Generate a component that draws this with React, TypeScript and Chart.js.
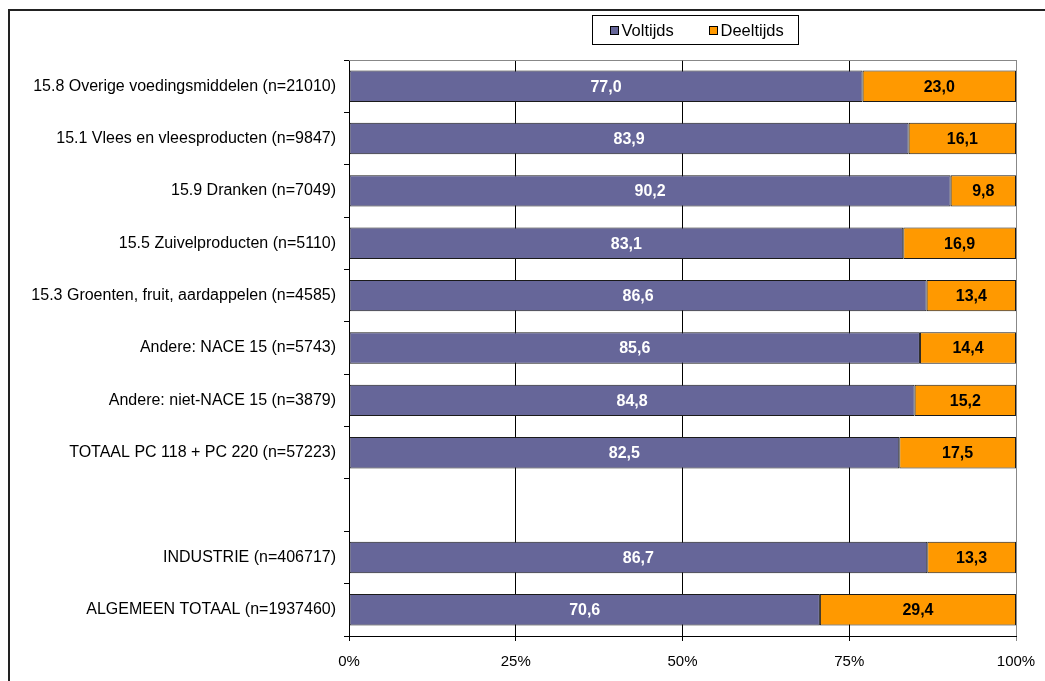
import React, { useEffect, useRef } from "react";
import { Chart, registerables } from "chart.js";

Chart.register(...registerables);

const categories = [
  "15.8 Overige voedingsmiddelen (n=21010)",
  "15.1 Vlees en vleesproducten (n=9847)",
  "15.9 Dranken (n=7049)",
  "15.5 Zuivelproducten (n=5110)",
  "15.3 Groenten, fruit, aardappelen (n=4585)",
  "Andere: NACE 15 (n=5743)",
  "Andere: niet-NACE 15 (n=3879)",
  "TOTAAL PC 118 + PC 220 (n=57223)",
  "",
  "INDUSTRIE (n=406717)",
  "ALGEMEEN TOTAAL (n=1937460)",
];
const voltijds = [77.0, 83.9, 90.2, 83.1, 86.6, 85.6, 84.8, 82.5, null, 86.7, 70.6];
const deeltijds = [23.0, 16.1, 9.8, 16.9, 13.4, 14.4, 15.2, 17.5, null, 13.3, 29.4];
const seriesNames = ["Voltijds", "Deeltijds"];
const xTicks = [0, 25, 50, 75, 100];

const PURPLE = "#666699";
const ORANGE = "#FF9900";
const SANS = "'Liberation Sans', Arial, sans-serif";

const valueLabels = {
  id: "valueLabels",
  afterDatasetsDraw(chart: any) {
    const ctx = chart.ctx;
    ctx.save();
    ctx.textAlign = "center";
    ctx.textBaseline = "middle";
    ctx.font = `bold 16px ${SANS}`;
    chart.data.datasets.forEach((ds: any, di: number) => {
      const meta = chart.getDatasetMeta(di);
      meta.data.forEach((el: any, i: number) => {
        const v = ds.data[i];
        if (v === null || v === undefined) return;
        const p = el.getProps(["x", "y", "base"], true);
        ctx.fillStyle = di === 0 ? "#ffffff" : "#000000";
        ctx.fillText(v.toFixed(1).replace(".", ","), (p.x + p.base) / 2, p.y + 1);
      });
    });
    ctx.restore();
  },
};

const plotFrame = {
  id: "plotFrame",
  beforeDatasetsDraw(chart: any) {
    const { ctx, chartArea } = chart;
    ctx.save();
    ctx.strokeStyle = "#888888";
    ctx.lineWidth = 1;
    ctx.beginPath();
    ctx.moveTo(chartArea.left, chartArea.top + 0.5);
    ctx.lineTo(chartArea.right, chartArea.top + 0.5);
    ctx.stroke();
    ctx.restore();
  },
};

const boxLegend = {
  id: "boxLegend",
  afterDraw(chart: any) {
    const { ctx, chartArea } = chart;
    const bx = Math.round(chartArea.left + 243) + 0.5;
    const by = 4.5;
    const bw = 206;
    const bh = 29;
    ctx.save();
    ctx.fillStyle = "#ffffff";
    ctx.fillRect(bx, by, bw, bh);
    ctx.strokeStyle = "#000000";
    ctx.lineWidth = 1;
    ctx.strokeRect(bx, by, bw, bh);
    const colors = [PURPLE, ORANGE];
    const starts = [bx + 17, bx + 116];
    ctx.font = `16.5px ${SANS}`;
    ctx.textBaseline = "middle";
    ctx.textAlign = "left";
    seriesNames.forEach((name, i) => {
      const mx = Math.round(starts[i]) + 0.5;
      const my = Math.round(by + bh / 2 - 4.5) + 0.5;
      ctx.fillStyle = colors[i];
      ctx.fillRect(mx, my, 8, 8);
      ctx.strokeStyle = "#000";
      ctx.strokeRect(mx, my, 8, 8);
      ctx.fillStyle = "#000";
      ctx.fillText(name, mx + 11, by + bh / 2 + 1);
    });
    ctx.restore();
  },
};

export default function App() {
  const ref = useRef<HTMLCanvasElement | null>(null);

  useEffect(() => {
    if (!ref.current) return;
    const chart = new Chart(ref.current, {
      type: "bar",
      data: {
        labels: categories,
        datasets: [
          {
            label: seriesNames[0],
            data: voltijds,
            backgroundColor: PURPLE,
            borderColor: "#1a1a1a",
            borderWidth: 1,
            borderSkipped: false,
            categoryPercentage: 1,
            barPercentage: 0.6,
          },
          {
            label: seriesNames[1],
            data: deeltijds,
            backgroundColor: ORANGE,
            borderColor: "#1a1a1a",
            borderWidth: 1,
            borderSkipped: false,
            categoryPercentage: 1,
            barPercentage: 0.6,
          },
        ],
      },
      options: {
        indexAxis: "y",
        responsive: false,
        animation: false,
        devicePixelRatio: 1,
        layout: { padding: { top: 49, right: 29, left: 0, bottom: 0 } },
        plugins: {
          legend: { display: false },
          tooltip: { enabled: false },
          title: { display: false },
        },
        scales: {
          x: {
            type: "linear",
            stacked: true,
            min: 0,
            max: 100,
            afterBuildTicks: (scale: any) => {
              scale.ticks = xTicks.map((v) => ({ value: v }));
            },
            afterFit: (scale: any) => {
              scale.height = 45;
              scale.paddingLeft = 0;
              scale.paddingRight = 0;
            },
            ticks: {
              callback: (v: any) => `${v}%`,
              color: "#000",
              font: { family: SANS, size: 15 },
              padding: 12,
              maxRotation: 0,
            },
            grid: {
              color: (c: any) => (c.tick && c.tick.value === 100 ? "#888888" : "#000000"),
              tickColor: (c: any) => (c.tick && c.tick.value === 100 ? "#888888" : "#000000"),
              tickLength: 5,
              lineWidth: 1,
            },
            border: { display: true, color: "#000", width: 1 },
          },
          y: {
            type: "category",
            stacked: true,
            afterFit: (scale: any) => {
              scale.width = 339;
            },
            ticks: {
              color: "#000",
              font: { family: SANS, size: 16 },
              padding: 8,
              autoSkip: false,
            },
            grid: {
              offset: true,
              drawOnChartArea: false,
              tickColor: "#000",
              tickLength: 5,
            },
            border: { display: true, color: "#000", width: 1 },
          },
        },
      },
      plugins: [plotFrame, valueLabels, boxLegend],
    } as any);
    return () => chart.destroy();
  }, []);

  return (
    <div style={{ position: "fixed", inset: 0, overflow: "hidden", background: "#fff" }}>
      <div
        style={{
          position: "absolute",
          left: 8,
          top: 9,
          width: 1050,
          height: 680,
          borderLeft: "2px solid #222",
          borderTop: "2px solid #222",
        }}
      />
      <canvas
        ref={ref}
        width={1035}
        height={670}
        style={{ position: "absolute", left: 10, top: 11, width: 1035, height: 670 }}
      />
    </div>
  );
}
